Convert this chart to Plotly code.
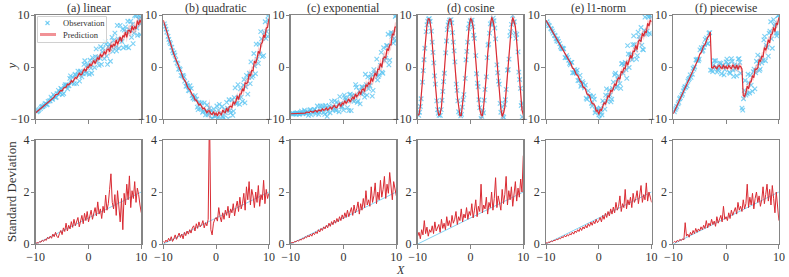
import plotly.graph_objects as go

W, H = 789, 277
FONT = "Liberation Serif"

PANEL_TITLES = ["(a) linear", "(b) quadratic", "(c) exponential",
                "(d) cosine", "(e) l1-norm", "(f) piecewise"]
LEGEND_LABELS = ["Observation", "Prediction"]
X_TICKS = [-10, 0, 10]
TOP_Y_TICKS = [-10, 0, 10]
BOT_Y_TICKS = [0, 2, 4]
TRUE_STD_X = [-10, 10]
TRUE_STD_Y = [0, 2]

OBS_X = [-9.8, -9.5, -9.1, -8.8, -8.4, -8.1, -7.8, -7.4, -7.1, -6.8,
         -6.4, -6.1, -5.7, -5.4, -5.1, -4.7, -4.4, -4.1, -3.7, -3.4,
         -3.1, -2.7, -2.4, -2.0, -1.7, -1.4, -1.0, -0.7, -0.4, 0.0,
         0.3, 0.6, 1.0, 1.3, 1.6, 2.0, 2.3, 2.6, 3.0, 3.3,
         3.6, 4.0, 4.3, 4.6, 5.0, 5.3, 5.6, 6.0, 6.3, 6.6,
         7.0, 7.3, 7.6, 8.0, 8.3, 8.6, 9.0, 9.3, 9.6, 9.9,
         -9.65, -9.35, -8.95, -8.65, -8.25, -7.95, -7.65, -7.25, -6.95, -6.65,
         -6.25, -5.95, -5.55, -5.25, -4.95, -4.55, -4.25, -3.95, -3.55, -3.25,
         -2.95, -2.55, -2.25, -1.85, -1.55, -1.25, -0.85, -0.55, -0.25, 0.15,
         0.45, 0.75, 1.15, 1.45, 1.75, 2.15, 2.45, 2.75, 3.15, 3.45,
         3.75, 4.15, 4.45, 4.75, 5.15, 5.45, 5.75, 6.15, 6.45, 6.75,
         7.15, 7.45, 7.75, 8.15, 8.45, 8.75, 9.15, 9.45, 9.75, 9.8]

OBS_A = [-8.6, -8.4, -8.0, -7.6, -7.4, -7.0, -7.2, -6.5, -5.8, -6.2,
         -5.6, -5.8, -4.5, -4.9, -4.2, -5.1, -3.4, -3.4, -3.6, -1.7,
         -2.9, -3.2, -1.6, -0.8, -2.7, -1.0, -1.3, 1.2, -1.2, 0.4,
         1.3, -1.2, 1.1, 2.0, 1.1, 0.3, 3.9, 2.9, 1.6, 4.4,
         0.5, 4.4, 3.9, 3.0, 6.5, 3.1, 5.4, 8.0, 4.9, 3.7,
         7.7, 6.8, 3.7, 8.8, 8.2, 6.5, 9.8, 6.1, 9.2, 8.3,
         -8.5, -8.2, -7.7, -7.6, -7.1, -7.3, -6.6, -6.5, -6.1, -5.3,
         -5.9, -5.1, -5.2, -4.1, -5.3, -3.7, -3.6, -4.2, -2.2, -3.1,
         -2.0, -1.4, -3.2, -1.6, -0.8, -1.9, 0.5, -0.8, 0.3, -1.4,
         -0.2, 1.8, -0.1, 3.5, 1.9, 1.7, 0.5, 3.6, 4.9, 2.1,
         3.9, 1.1, 5.7, 5.1, 3.8, 8.0, 3.6, 5.3, 7.3, 7.1,
         3.9, 8.8, 7.2, 5.7, 4.5, 9.9, 7.5, 9.9, 9.7, 6.2]
OBS_B = [8.3, 7.3, 5.9, 4.8, 3.8, 2.7, 2.3, 0.8, -0.4, -0.5,
         -1.7, -1.9, -3.7, -3.6, -4.6, -4.1, -6.0, -6.2, -6.2, -8.2,
         -7.1, -6.9, -8.5, -9.2, -7.3, -8.9, -8.4, -9.9, -8.1, -9.4,
         -9.8, -7.2, -9.0, -9.6, -8.2, -6.8, -9.9, -8.4, -6.3, -8.5,
         -4.0, -7.0, -5.8, -4.2, -6.6, -2.4, -3.8, -5.2, -1.2, 1.0,
         -1.7, 0.2, 4.4, 0.7, 2.5, 5.4, 2.2, 8.7, 6.8, 9.0,
         7.8, 6.7, 5.3, 4.5, 3.1, 2.7, 1.4, 0.6, -0.3, -1.6,
         -1.6, -2.7, -3.1, -4.5, -3.6, -5.5, -5.9, -5.5, -7.7, -6.8,
         -8.0, -8.7, -6.9, -8.4, -9.2, -7.9, -9.9, -8.7, -9.5, -7.5,
         -8.3, -9.9, -7.6, -9.8, -8.8, -7.9, -6.3, -8.8, -9.3, -5.9,
         -7.0, -3.4, -7.2, -5.8, -3.5, -6.9, -1.6, -2.0, -3.2, -2.0,
         2.6, -1.3, 1.5, 4.4, 6.8, 2.0, 6.6, 5.5, 5.9, 9.8]
OBS_C = [-9.0, -9.0, -8.9, -8.8, -9.1, -8.8, -8.9, -8.3, -9.0, -8.6,
         -8.3, -9.2, -8.5, -8.2, -8.6, -9.1, -7.5, -8.0, -8.7, -7.4,
         -9.5, -7.5, -7.8, -8.3, -6.5, -8.4, -7.2, -5.7, -7.6, -8.3,
         -5.9, -6.5, -8.4, -5.2, -5.5, -6.6, -3.4, -6.8, -4.6, -5.1,
         -3.9, -5.8, -3.4, -1.9, -3.6, -1.4, -4.5, -1.3, 1.5, -1.8,
         0.3, -1.0, 3.7, 1.7, 4.1, 0.4, 6.6, 6.5, 5.5, 9.9,
         -8.9, -9.0, -9.1, -8.9, -9.0, -8.5, -8.9, -8.6, -8.8, -9.3,
         -8.2, -8.7, -8.2, -9.0, -7.5, -8.7, -8.4, -7.5, -9.1, -7.8,
         -8.6, -8.8, -6.6, -7.7, -8.2, -6.7, -8.6, -7.0, -7.6, -5.4,
         -6.2, -7.8, -5.3, -8.4, -6.4, -5.5, -3.9, -6.5, -7.1, -3.8,
         -5.0, -1.4, -5.4, -4.2, -2.0, -5.6, -0.5, -1.2, -2.5, -1.5,
         2.8, -1.2, 1.3, 4.1, 6.3, 1.3, 5.9, 4.6, 5.0, 9.7]
OBS_D = [-9.3, -7.6, -2.9, 1.4, 6.8, 8.8, 9.3, 6.9, 2.8, -1.7,
         -6.5, -8.9, -9.3, -6.4, -2.8, 2.7, 7.2, 8.6, 9.1, 6.6,
         3.1, -3.3, -6.5, -8.9, -9.1, -6.3, -2.2, 3.0, 7.4, 8.9,
         9.0, 6.1, 2.2, -3.1, -6.3, -9.9, -8.4, -6.4, -1.9, 4.2,
         6.5, 8.5, 9.4, 7.5, 0.4, -2.7, -7.0, -7.7, -9.7, -6.3,
         -0.6, 1.5, 6.8, 9.9, 8.7, 5.5, 2.9, -2.4, -7.4, -7.9,
         -8.7, -6.1, -0.7, 3.6, 8.1, 9.2, 8.8, 4.8, 0.8, -3.3,
         -8.2, -9.3, -8.2, -4.7, -1.2, 5.0, 8.1, 9.0, 8.5, 4.8,
         1.0, -4.5, -8.6, -9.4, -7.7, -5.3, 1.4, 4.8, 8.3, 8.6,
         7.7, 5.5, -1.3, -3.8, -7.8, -9.5, -8.8, -4.3, 1.8, 4.4,
         8.3, 8.1, 8.9, 5.4, -1.1, -3.3, -8.7, -9.5, -7.2, -4.3,
         -0.5, 6.0, 8.2, 8.6, 6.5, 6.3, -1.0, -4.1, -6.9, -9.6]
OBS_E = [8.7, 8.0, 7.4, 6.9, 6.1, 5.4, 5.4, 4.5, 3.6, 3.6,
         1.8, 2.2, 1.3, 0.4, 0.9, -1.1, -0.9, -0.6, -2.6, -3.7,
         -2.8, -4.0, -6.0, -4.6, -5.5, -7.0, -5.6, -8.8, -7.9, -9.2,
         -7.9, -9.2, -6.9, -5.4, -6.6, -4.4, -6.7, -4.1, -1.5, -4.0,
         -2.4, -3.2, 0.6, -1.2, 0.9, -2.2, 2.5, 2.4, 1.4, 6.0,
         3.3, 2.2, 5.9, 7.6, 3.4, 7.0, 6.3, 9.8, 6.5, 9.6,
         8.3, 7.9, 7.3, 6.5, 6.0, 5.0, 4.9, 3.9, 3.5, 3.5,
         1.8, 1.8, 0.7, 0.9, -1.1, -0.5, -1.2, -2.6, -1.6, -3.4,
         -3.1, -3.5, -6.2, -5.7, -5.6, -7.5, -6.2, -8.3, -8.1, -9.9,
         -8.8, -6.5, -8.1, -4.2, -5.5, -5.4, -6.2, -2.9, -1.2, -3.7,
         -1.7, -4.1, 0.7, 0.4, -0.5, 4.1, -0.1, 1.9, 4.3, 4.3,
         1.5, 6.7, 5.3, 4.2, 3.3, 9.6, 6.9, 9.6, 9.9, 6.3]
OBS_F = [-8.6, -7.9, -7.1, -6.1, -5.5, -4.6, -3.8, -3.6, -2.4, -1.5,
         -1.4, -0.4, 1.4, 1.5, 1.5, 3.7, 3.2, 4.3, 5.6, 4.5,
         6.6, -0.6, 0.4, 1.2, -1.0, -0.3, 0.7, 0.2, -1.5, 1.0,
         0.4, -1.0, 1.6, -0.6, 0.4, -1.7, 1.5, 0.9, -7.9, -6.1,
         -2.6, -5.1, -3.0, -1.6, -4.7, -0.4, -1.1, 2.3, -0.7, 1.8,
         1.3, 5.9, 4.2, 2.1, 6.9, 5.4, 9.1, 8.3, 6.0, 9.9,
         -8.2, -7.6, -6.8, -5.9, -5.2, -4.1, -3.9, -2.7, -2.2, -2.0,
         -0.2, 0.0, 1.3, 1.2, 3.3, 3.0, 3.8, 5.3, 4.5, 6.5,
         -0.6, -0.9, 1.2, 0.0, -0.6, 0.8, -1.3, 0.3, -0.5, 1.5,
         0.6, -1.2, 1.1, -1.8, -0.4, 0.2, 1.6, -1.2, -8.3, -4.5,
         -5.4, -1.4, -5.0, -3.5, -0.9, -4.2, 1.1, 0.7, -0.4, 0.8,
         5.2, 1.2, 3.8, 6.5, 8.7, 3.6, 7.9, 6.5, 6.5, 9.9]

X_GRID = [-10.0, -9.75, -9.5, -9.25, -9.0, -8.75, -8.5, -8.25, -8.0, -7.75,
          -7.5, -7.25, -7.0, -6.75, -6.5, -6.25, -6.0, -5.75, -5.5, -5.25,
          -5.0, -4.75, -4.5, -4.25, -4.0, -3.75, -3.5, -3.25, -3.0, -2.75,
          -2.5, -2.25, -2.0, -1.75, -1.5, -1.25, -1.0, -0.75, -0.5, -0.25,
          0.0, 0.25, 0.5, 0.75, 1.0, 1.25, 1.5, 1.75, 2.0, 2.25,
          2.5, 2.75, 3.0, 3.25, 3.5, 3.75, 4.0, 4.25, 4.5, 4.75,
          5.0, 5.25, 5.5, 5.75, 6.0, 6.25, 6.5, 6.75, 7.0, 7.25,
          7.5, 7.75, 8.0, 8.25, 8.5, 8.75, 9.0, 9.25, 9.5, 9.75,
          10.0]

PRED_A = [-8.80, -8.58, -8.37, -8.12, -7.93, -7.67, -7.52, -7.25, -6.98, -6.87,
          -6.58, -6.48, -6.09, -5.90, -5.80, -5.35, -5.33, -5.20, -4.77, -4.49,
          -4.60, -4.07, -3.94, -3.88, -3.30, -3.40, -3.13, -2.64, -2.89, -2.33,
          -2.02, -2.20, -1.70, -1.21, -1.49, -1.38, -0.74, -0.40, -0.82, -0.02,
          -0.12, 0.59, 0.19, 0.75, 1.23, 0.69, 1.37, 1.82, 1.42, 2.47,
          2.00, 2.32, 3.00, 2.44, 3.35, 3.47, 2.96, 4.25, 3.79, 4.42,
          4.04, 5.23, 4.34, 5.19, 5.73, 4.91, 6.05, 5.81, 6.70, 5.69,
          7.02, 7.03, 6.54, 7.92, 7.11, 7.78, 7.31, 8.91, 8.13, 9.05,
          8.48]
PRED_B = [9.00, 8.11, 7.26, 6.38, 5.59, 4.75, 4.05, 3.24, 2.46, 1.86,
          1.11, 0.56, -0.25, -0.84, -1.32, -2.12, -2.47, -2.91, -3.63, -4.17,
          -4.30, -5.05, -5.38, -5.61, -6.34, -6.37, -6.75, -7.32, -7.13, -7.73,
          -8.06, -7.87, -8.34, -8.78, -8.43, -8.44, -8.96, -9.16, -8.58, -9.19,
          -8.88, -9.36, -8.71, -8.99, -9.17, -8.31, -8.65, -8.73, -7.94, -8.58,
          -7.68, -7.54, -7.74, -6.68, -7.07, -6.64, -5.56, -6.26, -5.19, -5.18,
          -4.14, -4.65, -3.06, -3.18, -2.97, -1.38, -1.73, -0.67, -0.72, 1.15,
          0.71, 1.60, 3.02, 2.59, 4.38, 4.70, 6.19, 5.63, 7.48, 7.64,
          9.32]
PRED_C = [-8.99, -8.97, -8.96, -8.92, -8.93, -8.87, -8.92, -8.85, -8.78, -8.86,
          -8.77, -8.86, -8.66, -8.67, -8.76, -8.49, -8.66, -8.71, -8.47, -8.37,
          -8.66, -8.30, -8.35, -8.46, -8.05, -8.32, -8.21, -7.88, -8.29, -7.89,
          -7.73, -8.06, -7.70, -7.35, -7.77, -7.79, -7.28, -7.06, -7.60, -6.91,
          -7.12, -6.51, -7.01, -6.53, -6.14, -6.75, -6.14, -5.75, -6.20, -5.19,
          -5.69, -5.39, -4.73, -5.29, -4.37, -4.23, -4.70, -3.37, -3.77, -3.06,
          -3.35, -2.05, -2.82, -1.83, -1.13, -1.77, -0.43, -0.44, 0.69, -0.05,
          1.58, 1.91, 1.77, 3.53, 3.13, 4.24, 4.25, 6.37, 6.14, 7.65,
          7.71]
PRED_D = [-9.29, -9.14, -7.60, -4.92, -1.47, 2.18, 5.55, 8.02, 9.26, 9.17,
          7.59, 4.96, 1.44, -2.21, -5.49, -8.10, -9.27, -9.07, -7.64, -4.98,
          -1.37, 2.14, 5.52, 8.09, 9.18, 9.19, 7.63, 4.80, 1.60, -2.24,
          -5.62, -7.91, -9.32, -9.31, -7.52, -4.77, -1.54, 2.06, 5.72, 7.92,
          9.35, 8.96, 7.73, 4.87, 1.30, -1.99, -5.56, -8.16, -9.12, -9.39,
          -7.50, -4.86, -1.65, 2.40, 5.40, 7.94, 9.57, 8.89, 7.69, 4.79,
          1.65, -2.50, -5.28, -8.09, -9.52, -8.85, -7.77, -4.85, -1.74, 2.54,
          5.32, 7.92, 9.54, 8.81, 7.79, 4.87, 1.78, -2.58, -5.42, -8.26,
          -9.13]
PRED_E = [9.00, 8.55, 8.09, 7.67, 7.19, 6.78, 6.26, 5.86, 5.46, 4.90,
          4.52, 3.95, 3.67, 3.19, 2.62, 2.40, 1.75, 1.21, 0.97, 0.58,
          -0.20, -0.34, -0.88, -1.49, -1.58, -2.35, -2.75, -2.93, -3.85, -3.96,
          -4.32, -5.17, -5.34, -5.52, -6.47, -7.03, -7.06, -7.39, -8.48, -8.35,
          -9.12, -8.18, -8.35, -7.56, -6.85, -7.16, -6.25, -5.57, -5.74, -4.46,
          -4.70, -4.15, -3.24, -3.57, -2.43, -2.08, -2.36, -0.84, -1.07, -0.21,
          -0.36, 1.06, 0.40, 1.48, 2.25, 1.66, 3.03, 3.02, 4.14, 3.36,
          4.92, 5.16, 4.90, 6.51, 5.93, 6.83, 6.59, 8.42, 7.87, 9.02,
          8.68]
PRED_F = [-9.00, -8.44, -7.87, -7.33, -6.74, -6.22, -5.59, -5.07, -4.56, -3.89,
          -3.40, -2.71, -2.32, -1.73, -1.05, -0.71, 0.05, 0.70, 1.06, 1.56,
          2.45, 2.70, 3.36, 4.08, 4.28, 5.16, 5.68, 5.97, 6.75, -0.09,
          -0.18, 0.22, -0.06, -0.33, 0.17, 0.28, -0.14, -0.26, 0.38, -0.20,
          0.12, -0.37, 0.25, -0.09, -0.35, 0.41, -0.05, -0.28, 0.34, -0.49,
          0.20, 0.10, -0.36, -5.52, -5.65, -4.98, -3.69, -4.20, -2.96, -2.80,
          -1.64, -2.05, -0.38, -0.44, -0.20, 1.40, 1.05, 2.07, 1.96, 3.75,
          3.21, 3.98, 5.25, 4.65, 6.25, 6.36, 7.61, 6.79, 8.36, 8.22,
          9.57]

STD_A = [0.02, 0.05, 0.04, 0.09, 0.07, 0.15, 0.10, 0.18, 0.14, 0.26,
         0.20, 0.30, 0.22, 0.38, 0.28, 0.45, 0.30, 0.24, 0.40, 0.52,
         0.36, 0.62, 0.48, 0.80, 0.50, 0.72, 0.58, 0.86, 0.64, 0.95,
         0.70, 0.88, 1.02, 0.66, 0.92, 1.10, 0.78, 1.18, 0.90, 1.25,
         0.85, 1.05, 1.30, 0.95, 1.22, 1.40, 1.08, 1.62, 1.15, 1.35,
         0.98, 1.45, 1.20, 1.88, 1.30, 1.55, 2.10, 2.70, 1.60, 1.35,
         1.90, 1.10, 2.05, 1.45, 0.85, 1.75, 0.55, 1.95, 1.50, 2.30,
         1.70, 2.62, 1.40, 2.05, 1.75, 2.40, 1.60, 2.15, 1.90, 1.50,
         1.20]
STD_B = [0.10, 0.05, 0.15, 0.08, 0.22, 0.12, 0.28, 0.10, 0.20, 0.35,
         0.18, 0.30, 0.42, 0.25, 0.38, 0.20, 0.45, 0.32, 0.50, 0.38,
         0.55, 0.42, 0.62, 0.70, 0.50, 0.78, 0.60, 0.85, 0.66, 0.74,
         0.90, 0.62, 0.82, 0.70, 0.95, 5.20, 0.55, 0.35, 0.80, 0.95,
         1.02, 0.88, 1.40, 1.05, 0.85, 1.20, 0.95, 1.30, 1.10, 1.45,
         1.00, 1.35, 1.20, 1.55, 1.08, 1.40, 1.65, 1.25, 1.80, 1.35,
         1.55, 1.95, 1.30, 2.20, 1.70, 2.40, 1.50, 2.10, 1.85, 1.40,
         2.00, 1.60, 2.25, 1.45, 1.90, 1.70, 2.45, 1.55, 2.10, 1.75,
         1.95]
STD_C = [0.03, 0.06, 0.04, 0.10, 0.08, 0.14, 0.11, 0.18, 0.15, 0.22,
         0.19, 0.28, 0.24, 0.33, 0.27, 0.38, 0.30, 0.42, 0.36, 0.47,
         0.40, 0.55, 0.46, 0.60, 0.52, 0.66, 0.58, 0.72, 0.62, 0.80,
         0.68, 0.86, 0.74, 0.92, 0.80, 0.98, 0.85, 1.05, 0.90, 1.12,
         0.96, 1.20, 1.02, 1.30, 1.05, 1.25, 1.40, 1.10, 1.50, 1.20,
         1.35, 1.62, 1.15, 1.55, 1.30, 1.75, 1.40, 2.05, 1.50, 1.70,
         1.45, 2.20, 1.60, 1.85, 2.35, 1.55, 2.00, 1.70, 2.45, 1.80,
         2.10, 2.60, 1.75, 2.30, 1.95, 2.75, 2.05, 1.70, 2.40, 2.10,
         1.85]
STD_D = [0.30, 0.45, 0.20, 0.55, 0.35, 0.90, 0.40, 0.65, 0.30, 0.55,
         0.45, 0.70, 0.40, 0.85, 0.50, 0.62, 0.75, 0.45, 0.95, 0.60,
         0.80, 0.55, 1.05, 0.70, 0.90, 0.65, 1.10, 0.80, 0.95, 1.25,
         0.75, 1.05, 0.90, 1.35, 0.85, 1.15, 1.00, 1.40, 0.95, 1.25,
         1.10, 1.55, 1.00, 1.30, 1.70, 1.05, 1.45, 1.25, 2.30, 1.20,
         1.50, 1.35, 1.80, 1.15, 1.60, 1.40, 2.00, 1.30, 1.75, 2.55,
         1.40, 1.85, 1.60, 1.30, 2.10, 1.55, 1.90, 2.60, 1.50, 2.05,
         1.70, 2.20, 1.45, 1.95, 2.40, 1.65, 2.15, 1.80, 2.50, 2.00,
         3.40]
STD_E = [0.05, 0.03, 0.08, 0.06, 0.12, 0.09, 0.15, 0.13, 0.19, 0.16,
         0.23, 0.20, 0.28, 0.24, 0.33, 0.27, 0.36, 0.31, 0.40, 0.35,
         0.46, 0.38, 0.50, 0.44, 0.55, 0.48, 0.62, 0.52, 0.66, 0.58,
         0.72, 0.62, 0.78, 0.68, 0.84, 0.72, 0.88, 0.78, 0.95, 0.82,
         0.90, 1.02, 0.85, 1.10, 0.95, 1.18, 1.02, 1.25, 1.08, 1.35,
         1.15, 1.42, 1.20, 1.60, 1.30, 1.45, 1.85, 1.25, 1.55, 1.40,
         2.10, 1.35, 1.70, 1.50, 1.80, 1.40, 1.95, 1.60, 1.75, 2.05,
         1.55, 1.85, 2.25, 1.60, 1.90, 1.70, 2.35, 1.65, 2.00, 1.80,
         1.60]
STD_F = [0.05, 0.10, 0.06, 0.14, 0.10, 0.18, 0.13, 0.20, 0.16, 0.82,
         0.30, 0.38, 0.26, 0.45, 0.35, 0.52, 0.40, 0.60, 0.45, 0.58,
         0.50, 0.66, 0.55, 0.72, 0.60, 0.90, 0.62, 0.80, 0.70, 0.95,
         0.75, 0.88, 0.68, 1.05, 0.80, 0.95, 1.10, 0.85, 1.45, 0.95,
         1.05, 0.90, 1.20, 0.98, 1.30, 1.10, 1.25, 1.40, 1.15, 1.60,
         1.30, 1.45, 1.25, 1.70, 1.35, 1.55, 2.30, 1.40, 1.80, 1.50,
         1.95, 1.35, 1.75, 2.00, 1.60, 1.85, 1.45, 1.70, 2.20, 1.55,
         1.90, 2.30, 1.65, 2.10, 1.50, 2.25, 1.75, 1.20, 2.00, 1.40,
         0.90]

OBS_Y = [OBS_A, OBS_B, OBS_C, OBS_D, OBS_E, OBS_F]
PRED_Y = [PRED_A, PRED_B, PRED_C, PRED_D, PRED_E, PRED_F]
STD_Y = [STD_A, STD_B, STD_C, STD_D, STD_E, STD_F]

for arr in OBS_Y:
    assert len(arr) == len(OBS_X), len(arr)
for arr in PRED_Y + STD_Y:
    assert len(arr) == len(X_GRID), len(arr)

# ---- layout geometry (pixels) ----
LEFTS = [35.7, 163.3, 290.7, 417.7, 546.0, 673.3]
PW = 105.6
TOP_ROW = (15, 119)
BOT_ROW = (140, 244)

OBS_COLOR = "rgba(85,195,242,0.75)"
RED = "#d92b33"
BAND = "rgba(238,105,110,0.32)"
LIGHTBLUE = "#86d3f3"
FRAME = "#858585"
TXT = "#333333"


def px(x):
    return x / W


def py(y):
    return 1 - y / H


fig = go.Figure()

axis_common = dict(showline=True, linecolor=FRAME, linewidth=1.3, mirror=True,
                   ticks="outside", ticklen=3.5, tickwidth=1, tickcolor=FRAME,
                   showgrid=False, zeroline=False, automargin=False,
                   tickfont=dict(family=FONT, size=12, color=TXT))

layout_axes = {}
for i in range(6):
    top_idx = 2 * i + 1
    bot_idx = 2 * i + 2
    xd = [px(LEFTS[i]), px(LEFTS[i] + PW)]
    for idx, row, yr, yt in [(top_idx, TOP_ROW, [-10, 10], TOP_Y_TICKS),
                             (bot_idx, BOT_ROW, [0, 4], BOT_Y_TICKS)]:
        xname = "xaxis" if idx == 1 else f"xaxis{idx}"
        yname = "yaxis" if idx == 1 else f"yaxis{idx}"
        layout_axes[xname] = dict(axis_common, domain=xd, range=[-10, 10],
                                  tickvals=X_TICKS,
                                  showticklabels=(idx == bot_idx),
                                  ticklabeloverflow="allow",
                                  ticklabelstandoff=-2,
                                  anchor=f"y{idx}" if idx > 1 else "y")
        layout_axes[yname] = dict(axis_common, domain=[py(row[1]), py(row[0])],
                                  range=yr, tickvals=yt,
                                  ticklabelstandoff=-1,
                                  anchor=f"x{idx}" if idx > 1 else "x")

    xr_t = "x" if top_idx == 1 else f"x{top_idx}"
    yr_t = "y" if top_idx == 1 else f"y{top_idx}"
    xr_b = f"x{bot_idx}"
    yr_b = f"y{bot_idx}"

    pred = PRED_Y[i]
    std = STD_Y[i]
    lower = [p - 0.45 * s for p, s in zip(pred, std)]
    upper = [p + 0.45 * s for p, s in zip(pred, std)]

    fig.add_trace(go.Scatter(
        x=OBS_X, y=OBS_Y[i], mode="markers", name=LEGEND_LABELS[0],
        marker=dict(symbol="x-thin", size=4.5, color=OBS_COLOR,
                    line=dict(width=1.15, color=OBS_COLOR)),
        showlegend=False, xaxis=xr_t, yaxis=yr_t, hoverinfo="skip"))
    fig.add_trace(go.Scatter(
        x=X_GRID, y=lower, mode="lines", line=dict(width=0, color=BAND),
        showlegend=False, xaxis=xr_t, yaxis=yr_t, hoverinfo="skip"))
    fig.add_trace(go.Scatter(
        x=X_GRID, y=upper, mode="lines", line=dict(width=0, color=BAND),
        fill="tonexty", fillcolor=BAND,
        showlegend=False, xaxis=xr_t, yaxis=yr_t, hoverinfo="skip"))
    fig.add_trace(go.Scatter(
        x=X_GRID, y=pred, mode="lines", name=LEGEND_LABELS[1],
        line=dict(width=1.2, color=RED),
        showlegend=False, xaxis=xr_t, yaxis=yr_t, hoverinfo="skip"))

    fig.add_trace(go.Scatter(
        x=TRUE_STD_X, y=TRUE_STD_Y, mode="lines",
        line=dict(width=1, color=LIGHTBLUE),
        showlegend=False, xaxis=xr_b, yaxis=yr_b, hoverinfo="skip"))
    fig.add_trace(go.Scatter(
        x=X_GRID, y=std, mode="lines",
        line=dict(width=1, color=RED),
        showlegend=False, xaxis=xr_b, yaxis=yr_b, hoverinfo="skip"))

annotations = []
for i, t in enumerate(PANEL_TITLES):
    annotations.append(dict(text=t, x=px(LEFTS[i] + PW / 2), y=py(7.5),
                            xref="paper", yref="paper", showarrow=False,
                            xanchor="center", yanchor="middle",
                            font=dict(family=FONT, size=12, color=TXT)))
annotations.append(dict(text="<i>y</i>", x=px(10.5), y=py(67),
                        xref="paper", yref="paper", showarrow=False,
                        textangle=-90, xanchor="center", yanchor="middle",
                        font=dict(family=FONT, size=13, color=TXT)))
annotations.append(dict(text="Standard Deviation", x=px(11), y=py(192),
                        xref="paper", yref="paper", showarrow=False,
                        textangle=-90, xanchor="center", yanchor="middle",
                        font=dict(family=FONT, size=13, color=TXT)))
annotations.append(dict(text="<i>X</i>", x=px(400), y=py(270),
                        xref="paper", yref="paper", showarrow=False,
                        xanchor="center", yanchor="middle",
                        font=dict(family=FONT, size=12, color=TXT)))

# legend box (inside panel a)
LEG = dict(x0=37.5, x1=106.5, y0=16.5, y1=42.5)
shapes = [
    dict(type="rect", xref="paper", yref="paper", layer="above",
         x0=px(LEG["x0"]), x1=px(LEG["x1"]), y0=py(LEG["y1"]), y1=py(LEG["y0"]),
         line=dict(color="#d0d0d0", width=1), fillcolor="rgba(255,255,255,0.85)"),
    dict(type="line", xref="paper", yref="paper", layer="above",
         x0=px(45.5), x1=px(49.5), y0=py(21), y1=py(25),
         line=dict(color=OBS_COLOR, width=1.3)),
    dict(type="line", xref="paper", yref="paper", layer="above",
         x0=px(45.5), x1=px(49.5), y0=py(25), y1=py(21),
         line=dict(color=OBS_COLOR, width=1.3)),
    dict(type="line", xref="paper", yref="paper", layer="above",
         x0=px(40), x1=px(56), y0=py(34.5), y1=py(34.5),
         line=dict(color="rgba(235,100,105,0.7)", width=3)),
]
annotations.append(dict(text=LEGEND_LABELS[0], x=px(61), y=py(23),
                        xref="paper", yref="paper", showarrow=False,
                        xanchor="left", yanchor="middle",
                        font=dict(family=FONT, size=8.5, color=TXT)))
annotations.append(dict(text=LEGEND_LABELS[1], x=px(61), y=py(34.5),
                        xref="paper", yref="paper", showarrow=False,
                        xanchor="left", yanchor="middle",
                        font=dict(family=FONT, size=8.5, color=TXT)))

fig.update_layout(
    width=W, height=H, autosize=False,
    margin=dict(l=0, r=0, t=0, b=0, pad=0, autoexpand=False),
    paper_bgcolor="white", plot_bgcolor="white",
    font=dict(family=FONT, size=12, color=TXT),
    annotations=annotations,
    shapes=shapes,
    showlegend=False,
    hovermode=False,
    **layout_axes,
)

fig.write_html(
    "out.html",
    config={"displayModeBar": False, "staticPlot": True},
    post_script="document.body.style.margin='0px';"
                "document.body.style.padding='0px';"
                "document.body.style.overflow='hidden';",
)
